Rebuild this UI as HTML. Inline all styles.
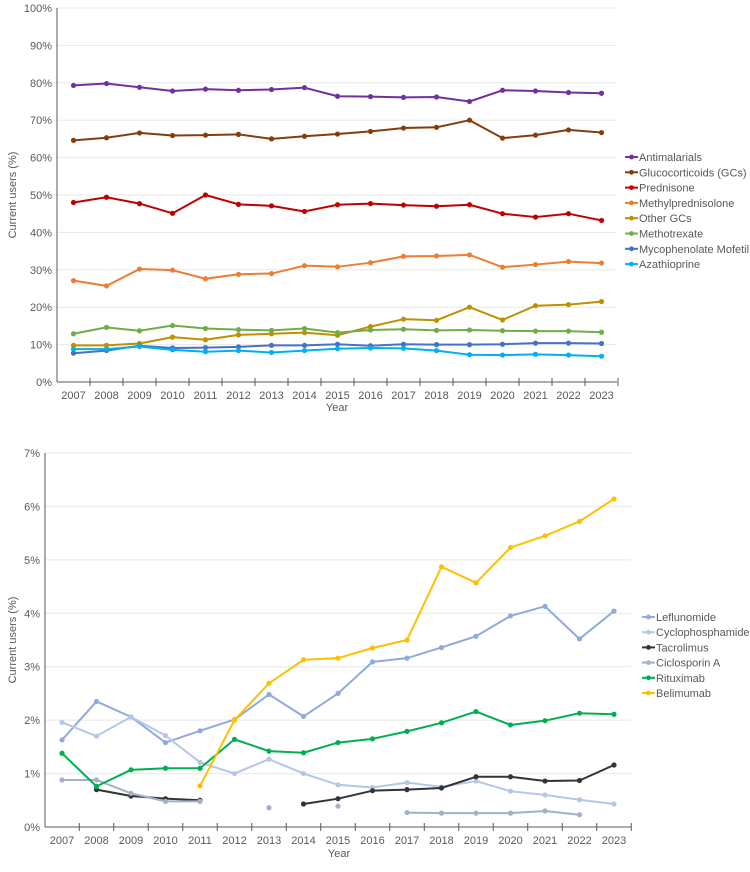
<!DOCTYPE html>
<html><head><meta charset="utf-8"><style>
body{margin:0;background:#fff;width:750px;height:867px;overflow:hidden}
svg{font-family:"Liberation Sans",sans-serif;font-size:11px;fill:#595959}
</style></head><body>
<svg id="c" width="750" height="867"></svg>
<script>
const years=[2007,2008,2009,2010,2011,2012,2013,2014,2015,2016,2017,2018,2019,2020,2021,2022,2023];
const topNames=["Antimalarials","Glucocorticoids (GCs)","Prednisone","Methylprednisolone","Other GCs","Methotrexate","Mycophenolate Mofetil","Azathioprine"];
const topColors=["#7030a0","#843c0c","#c00000","#ed7d31","#bf9000","#70ad47","#4472c4","#00b0f0"];
const antimalarials=[79.3,79.8,78.8,77.8,78.3,78,78.2,78.7,76.4,76.3,76.1,76.2,75,78,77.8,77.4,77.2];
const glucocorticoids=[64.6,65.3,66.6,65.9,66,66.2,65,65.7,66.3,67,67.9,68.1,70,65.2,66,67.4,66.7];
const prednisone=[48,49.4,47.7,45.1,50,47.5,47.1,45.6,47.4,47.7,47.3,47,47.4,45,44.1,45,43.2];
const methylpred=[27.1,25.7,30.2,29.9,27.6,28.8,29,31.1,30.8,31.9,33.6,33.7,34,30.7,31.4,32.2,31.8];
const otherGCs=[9.8,9.8,10.3,12,11.3,12.6,12.9,13.2,12.5,14.8,16.8,16.5,20,16.6,20.4,20.7,21.5];
const methotrexate=[12.9,14.6,13.7,15.1,14.3,14,13.8,14.3,13.2,13.9,14.1,13.8,13.9,13.7,13.6,13.6,13.3];
const mmf=[7.7,8.4,9.7,9.1,9.2,9.4,9.8,9.8,10.1,9.7,10.1,10,10,10.1,10.4,10.4,10.3];
const azathioprine=[8.8,8.8,9.5,8.6,8.1,8.4,7.9,8.4,8.9,9.1,9,8.4,7.3,7.2,7.4,7.2,6.9];
const topTicks=[0,10,20,30,40,50,60,70,80,90,100];

const botNames=["Leflunomide","Cyclophosphamide","Tacrolimus","Ciclosporin A","Rituximab","Belimumab"];
const botColors=["#8faadc","#b4c7e7","#333333","#a3b0c8","#00b050","#ffc000"];
const leflunomide=[1.63,2.35,2.06,1.58,1.8,2.01,2.48,2.07,2.5,3.09,3.16,3.36,3.57,3.95,4.13,3.52,4.04];
const cyclophosphamide=[1.96,1.7,2.06,1.71,1.21,1.0,1.27,1.0,0.79,0.74,0.83,0.75,0.86,0.67,0.6,0.51,0.43];
const tacrolimus=[null,0.7,0.58,0.53,0.5,null,null,0.43,0.53,0.68,0.7,0.73,0.94,0.94,0.86,0.87,1.16];
const ciclosporin=[0.88,0.88,0.63,0.48,0.48,null,0.36,null,0.39,null,0.27,0.26,0.26,0.26,0.3,0.23,null];
const rituximab=[1.38,0.76,1.07,1.1,1.1,1.64,1.42,1.39,1.58,1.65,1.79,1.95,2.16,1.91,1.99,2.13,2.11];
const belimumab=[null,null,null,null,0.77,2.0,2.69,3.13,3.16,3.35,3.5,4.87,4.57,5.23,5.45,5.72,6.14];
const botTicks=[0,1,2,3,4,5,6,7];

const NS="http://www.w3.org/2000/svg";
const svg=document.getElementById('c');
function el(t,a,p){const e=document.createElementNS(NS,t);for(const k in a)e.setAttribute(k,a[k]);(p||svg).appendChild(e);return e;}

function chart(cfg,series,names,colors,ticks){
  const g=el('g',{});
  
  
  const xs=i=>cfg.x0+i*cfg.step;
  const ys=v=>cfg.y0-(v/cfg.max)*(cfg.y0-cfg.y1);
  ticks.forEach(t=>{
    const y=ys(t);
    if(t>0){const l=el('line',{x1:cfg.ax,x2:cfg.right,y1:y,y2:y,stroke:'#e8e8e8','stroke-width':1},g);
      }
    const tx=el('text',{x:cfg.ax-5,y:y+4,'text-anchor':'end'},g);tx.textContent=t+'%';
    
  });
  const ya=el('line',{x1:cfg.ax,x2:cfg.ax,y1:cfg.y1,y2:cfg.y0,stroke:'#595959'},g);
  
  const xa=el('line',{x1:cfg.ax,x2:cfg.right,y1:cfg.y0,y2:cfg.y0,stroke:'#595959'},g);
  
  years.forEach((yr,i)=>{
    const tk=el('line',{x1:xs(i)+cfg.step/2,x2:xs(i)+cfg.step/2,y1:cfg.y0-4,y2:cfg.y0+4,stroke:'#595959'},g);
    
    const tx=el('text',{x:xs(i),y:cfg.y0+17,'text-anchor':'middle'},g);tx.textContent=yr;
    
  });
  const xt=el('text',{x:cfg.xtx,y:cfg.xty,'text-anchor':'middle'},g);xt.textContent='Year';
  
  const yt=el('text',{x:0,y:0,'text-anchor':'middle',transform:`translate(${cfg.ytx},${cfg.yty}) rotate(-90)`},g);yt.textContent='Current users (%)';
  
  series.forEach((s,k)=>{
    const sg=el('g',{},g);
    
    
    let d='',pen=false;
    s.forEach((v,i)=>{ if(v==null){pen=false;return;} d+=(pen?'L':'M')+xs(i)+','+ys(v); pen=true;});
    const p=el('path',{d:d,fill:'none',stroke:colors[k],'stroke-width':2,'stroke-linejoin':'round'},sg);
    
    s.forEach((v,i)=>{ if(v==null)return;
      const c=el('circle',{cx:xs(i),cy:ys(v),r:2.6,fill:colors[k]},sg);
      });
    const ly=cfg.ly0+k*cfg.lstep;
    const lg=el('g',{},g);
    
    el('line',{x1:cfg.lx,x2:cfg.lx+13,y1:ly,y2:ly,stroke:colors[k],'stroke-width':2},lg);
    el('circle',{cx:cfg.lx+6.5,cy:ly,r:2.4,fill:colors[k]},lg);
    const lt=el('text',{x:cfg.lx+14,y:ly+4},lg);lt.textContent=names[k];
  });
}
chart({name:'top-chart',ax:57,right:617,x0:73.5,step:33,y0:382,y1:8,max:100,xtx:337,xty:411,ytx:16,yty:195,lx:625,ly0:157,lstep:15.3},
  [antimalarials,glucocorticoids,prednisone,methylpred,otherGCs,methotrexate,mmf,azathioprine],topNames,topColors,topTicks);
chart({name:'bottom-chart',ax:45,right:631,x0:62,step:34.5,y0:827,y1:453,max:7,xtx:339,xty:857,ytx:16,yty:640,lx:642,ly0:617,lstep:15.2},
  [leflunomide,cyclophosphamide,tacrolimus,ciclosporin,rituximab,belimumab],botNames,botColors,botTicks);
</script>
</body></html>
